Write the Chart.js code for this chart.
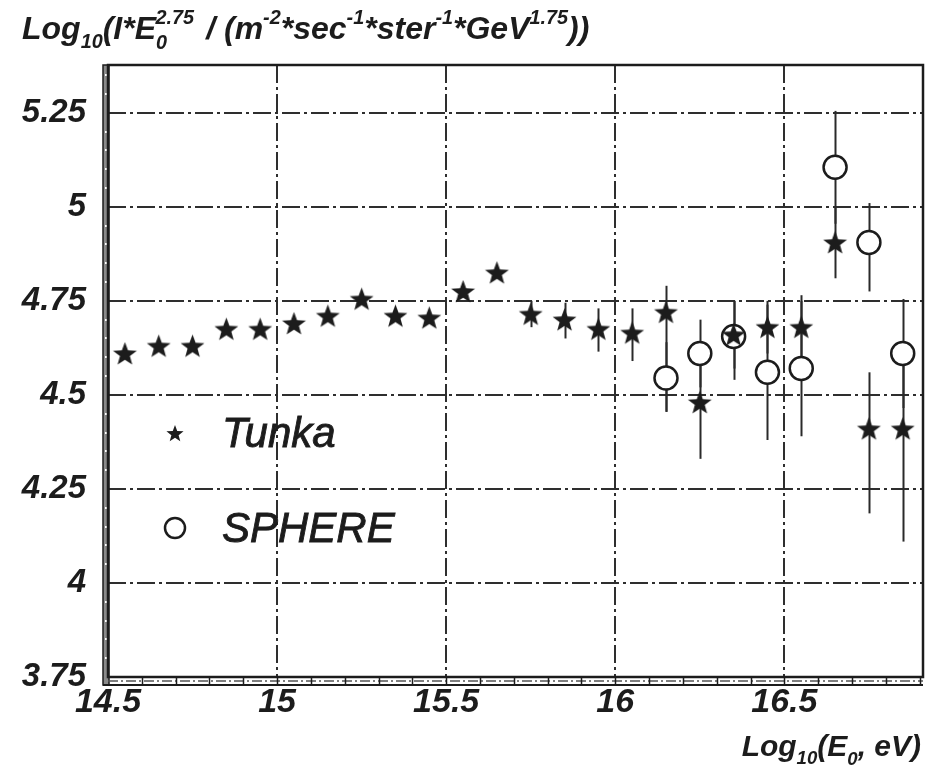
<!DOCTYPE html>
<html>
<head>
<meta charset="utf-8">
<title>Tunka and SPHERE energy spectrum</title>
<script src="https://cdn.jsdelivr.net/npm/chart.js@4.4.1/dist/chart.umd.min.js"></script>
<style>
  html, body { margin: 0; padding: 0; background: #fff; }
  #wrap { width: 928px; height: 769px; position: relative; }
</style>
</head>
<body>
<div id="wrap"><canvas id="chart" width="928" height="769"></canvas></div>
<script>
// ---- data: log10 of energy (eV) vs log10(I * E^2.75) ----
const tunkaEnergy = [14.55, 14.65, 14.75, 14.85, 14.95, 15.05, 15.15, 15.25, 15.35, 15.45, 15.55, 15.65,
                     15.75, 15.85, 15.95, 16.05, 16.15, 16.25, 16.35, 16.45, 16.55, 16.65, 16.75, 16.85];
const tunkaFlux   = [4.61, 4.63, 4.63, 4.675, 4.675, 4.69, 4.71, 4.755, 4.71, 4.705, 4.775, 4.825,
                     4.715, 4.70, 4.675, 4.665, 4.72, 4.48, 4.66, 4.68, 4.68, 4.905, 4.41, 4.41];
const tunkaLow    = [null, null, null, null, null, null, null, null, null, null, null, null,
                     4.68, 4.65, 4.615, 4.59, 4.455, 4.33, 4.57, 4.61, 4.595, 4.81, 4.185, 4.11];
const tunkaHigh   = [null, null, null, null, null, null, null, null, null, null, null, null,
                     4.75, 4.745, 4.73, 4.73, 4.79, 4.63, 4.75, 4.75, 4.765, 5.0, 4.56, 4.62];

const sphereEnergy = [16.15, 16.25, 16.35, 16.45, 16.55, 16.65, 16.75, 16.85];
const sphereFlux   = [4.545, 4.61, 4.655, 4.56, 4.57, 5.105, 4.905, 4.61];
const sphereLow    = [4.455, 4.52, 4.54, 4.38, 4.39, 4.955, 4.775, 4.465];
const sphereHigh   = [4.64, 4.70, 4.75, 4.74, 4.75, 5.255, 5.01, 4.755];

const xTickValues = [14.5, 15, 15.5, 16, 16.5];
const yTickValues = [3.75, 4, 4.25, 4.5, 4.75, 5, 5.25];
const seriesNames = ['Tunka', 'SPHERE'];

const FONT = '"Liberation Sans", Arial, sans-serif';
const INK = '#1c1c1c';

// filled five-pointed star used as the Tunka marker
function makeStar(outer, inner) {
  const c = document.createElement('canvas');
  const s = Math.ceil(outer * 2 + 2);
  c.width = s; c.height = s;
  const g = c.getContext('2d');
  g.fillStyle = INK;
  g.beginPath();
  for (let i = 0; i < 10; i++) {
    const r = i % 2 === 0 ? outer : inner;
    const a = -Math.PI / 2 + i * Math.PI / 5;
    const px = s / 2 + r * Math.cos(a), py = s / 2 + 1 + r * Math.sin(a);
    i === 0 ? g.moveTo(px, py) : g.lineTo(px, py);
  }
  g.closePath();
  g.fill();
  return c;
}
const starMarker = makeStar(12.5, 5.2);
const legendStar = makeStar(9, 3.8);

const toPoints = (xs, ys) => xs.map((x, i) => ({ x: x, y: ys[i] }));

// vertical error bars, drawn under the markers
const errorBars = {
  id: 'errorBars',
  beforeDatasetsDraw(chart) {
    const { ctx, scales: { x, y } } = chart;
    const sets = [[tunkaEnergy, tunkaLow, tunkaHigh], [sphereEnergy, sphereLow, sphereHigh]];
    ctx.save();
    ctx.strokeStyle = '#2a2a2a';
    ctx.lineWidth = 2;
    sets.forEach(([xs, lo, hi]) => {
      xs.forEach((v, i) => {
        if (lo[i] == null || hi[i] == null) return;
        const px = Math.round(x.getPixelForValue(v)) + 0.5;
        ctx.beginPath();
        ctx.moveTo(px, y.getPixelForValue(lo[i]));
        ctx.lineTo(px, y.getPixelForValue(hi[i]));
        ctx.stroke();
      });
    });
    ctx.restore();
  }
};

// frame with minor tick bands along the left and bottom edges
const frame = {
  id: 'frame',
  afterDatasetsDraw(chart) {
    const { ctx, chartArea: a, scales: { x, y } } = chart;
    ctx.save();
    // left band
    ctx.fillStyle = '#8a8a8a';
    ctx.fillRect(a.left - 5, a.top, 6, a.bottom - a.top + 8);
    ctx.strokeStyle = INK; ctx.lineWidth = 1.5;
    ctx.strokeRect(a.left - 5, a.top, 6, a.bottom - a.top + 8);
    ctx.fillStyle = '#ffffff';
    for (let v = 3.8; v < 5.38; v += 0.05) {
      const py = Math.round(y.getPixelForValue(v));
      if (Math.abs((v * 4) - Math.round(v * 4)) < 1e-6) continue;
      ctx.fillRect(a.left - 3, py - 1, 3, 2);
    }
    // bottom band
    ctx.strokeStyle = INK; ctx.lineWidth = 2;
    ctx.beginPath();
    ctx.moveTo(a.left - 5, a.bottom + 8); ctx.lineTo(a.right, a.bottom + 8);
    ctx.stroke();
    ctx.lineWidth = 1.5;
    ctx.strokeStyle = '#555';
    ctx.setLineDash([10, 3, 2, 3]);
    ctx.beginPath();
    ctx.moveTo(a.left, a.bottom + 4); ctx.lineTo(a.right, a.bottom + 4);
    ctx.stroke();
    ctx.setLineDash([]);
    ctx.strokeStyle = INK; ctx.lineWidth = 1.5;
    for (let v = 14.6; v < 16.91; v += 0.1) {
      const px = Math.round(x.getPixelForValue(v)) + 0.5;
      ctx.beginPath();
      ctx.moveTo(px, a.bottom + 8); ctx.lineTo(px, a.bottom + 1);
      ctx.stroke();
    }
    // outer rectangle
    ctx.lineWidth = 2.5;
    ctx.strokeStyle = INK;
    ctx.strokeRect(a.left, a.top, a.right - a.left, a.bottom - a.top);
    ctx.restore();
  }
};

// draws a run of text pieces with sub/superscripts; returns the end x
function drawRich(ctx, x, y, parts, size, measureOnly) {
  let cx = x;
  parts.forEach(p => {
    const fs = p.s ? size * 0.62 : size;
    ctx.font = 'italic bold ' + fs + 'px ' + FONT;
    if (!measureOnly) ctx.fillText(p.t, cx, y + (p.dy || 0) * size);
    cx += ctx.measureText(p.t).width + (p.gap || 0) * size;
  });
  return cx;
}

const yTitleParts = [
  { t: 'Log' }, { t: '10', s: 1, dy: 0.28 }, { t: '(I*E' },
  { t: '0', s: 1, dy: 0.32, gap: -0.36 }, { t: '2.75', s: 1, dy: -0.48, gap: 0.1 },
  { t: ' / (m' }, { t: '-2', s: 1, dy: -0.48 }, { t: '*sec' }, { t: '-1', s: 1, dy: -0.48 },
  { t: '*ster' }, { t: '-1', s: 1, dy: -0.48 }, { t: '*GeV' }, { t: '1.75', s: 1, dy: -0.48 },
  { t: '))' }
];
const xTitleParts = [
  { t: 'Log' }, { t: '10', s: 1, dy: 0.28 }, { t: '(E' }, { t: '0', s: 1, dy: 0.3 }, { t: ', eV)' }
];

const labels = {
  id: 'labels',
  afterDraw(chart) {
    const { ctx, chartArea: a } = chart;
    ctx.save();
    ctx.fillStyle = INK;
    ctx.textBaseline = 'alphabetic';
    ctx.textAlign = 'left';
    // y-axis title across the top
    drawRich(ctx, 22, 39, yTitleParts, 32);
    // x-axis title, right aligned under the axis
    const xs = 30;
    const w = drawRich(ctx, 0, 0, xTitleParts, xs, true);
    drawRich(ctx, 921 - w, 756, xTitleParts, xs);
    // legend
    ctx.font = 'italic 42px ' + FONT;
    ctx.textBaseline = 'middle';
    ctx.lineWidth = 0.9;
    ctx.strokeStyle = INK;
    const lx = a.left + 67;
    const row1 = a.top + 368, row2 = a.top + 463;
    ctx.drawImage(legendStar, lx - legendStar.width / 2, row1 - legendStar.height / 2);
    ctx.fillText(seriesNames[0], a.left + 114, row1 + 2);
    ctx.strokeText(seriesNames[0], a.left + 114, row1 + 2);
    ctx.fillText(seriesNames[1], a.left + 114, row2 + 2);
    ctx.strokeText(seriesNames[1], a.left + 114, row2 + 2);
    ctx.beginPath();
    ctx.arc(lx, row2, 10, 0, Math.PI * 2);
    ctx.fillStyle = '#fff'; ctx.fill();
    ctx.lineWidth = 2.5; ctx.stroke();
    ctx.restore();
  }
};

const whiteBg = {
  id: 'whiteBg',
  beforeDraw(chart) {
    const c = chart.ctx;
    c.save(); c.fillStyle = '#fff'; c.fillRect(0, 0, chart.width, chart.height); c.restore();
  }
};

const gridStyle = {
  color: '#2e2e2e',
  lineWidth: 2,
  drawTicks: false
};

new Chart(document.getElementById('chart'), {
  type: 'scatter',
  data: {
    datasets: [
      {
        label: seriesNames[0],
        data: toPoints(tunkaEnergy, tunkaFlux),
        pointStyle: starMarker,
        pointRadius: 12,
        order: 0
      },
      {
        label: seriesNames[1],
        data: toPoints(sphereEnergy, sphereFlux),
        pointStyle: 'circle',
        pointRadius: 11.5,
        pointBackgroundColor: '#ffffff',
        pointBorderColor: INK,
        pointBorderWidth: 2.5,
        order: 1
      }
    ]
  },
  options: {
    responsive: false,
    animation: false,
    events: [],
    layout: { autoPadding: false, padding: { top: 65, right: 5, left: 0, bottom: 0 } },
    plugins: { legend: { display: false }, tooltip: { enabled: false } },
    scales: {
      x: {
        type: 'linear',
        min: 14.5,
        max: 16.91,
        afterBuildTicks(scale) { scale.ticks = xTickValues.map(v => ({ value: v })); },
        afterFit(scale) { scale.height = 92; },
        ticks: {
          padding: 5,
          color: INK,
          font: { family: FONT, size: 34, style: 'italic', weight: 'bold' },
          callback: v => String(v),
          maxRotation: 0
        },
        grid: gridStyle,
        border: { display: false, dash: [18, 4, 3, 4] }
      },
      y: {
        type: 'linear',
        min: 3.75,
        max: 5.377,
        afterBuildTicks(scale) { scale.ticks = yTickValues.map(v => ({ value: v })); },
        afterFit(scale) { scale.width = 108; },
        ticks: {
          padding: 22,
          color: INK,
          font: { family: FONT, size: 33, style: 'italic', weight: 'bold' },
          callback: v => String(v)
        },
        grid: gridStyle,
        border: { display: false, dash: [18, 4, 3, 4] }
      }
    }
  },
  plugins: [whiteBg, errorBars, frame, labels]
});
</script>
</body>
</html>
